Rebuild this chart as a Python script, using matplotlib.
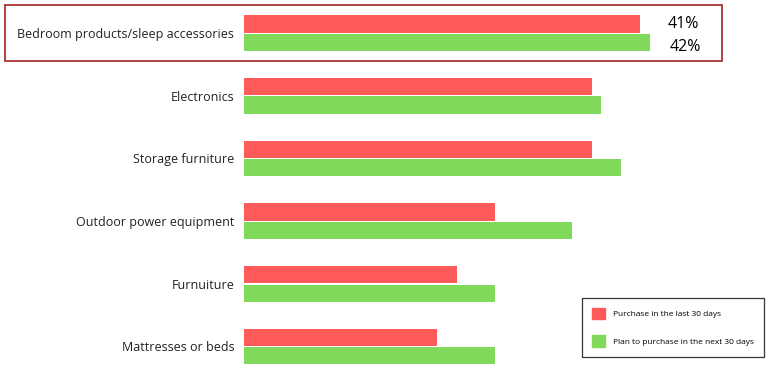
import matplotlib.pyplot as plt
from matplotlib.patches import Rectangle
from matplotlib.patches import Patch

plt.rcParams['font.family'] = ['Open Sans', 'DejaVu Sans']

categories = ["Bedroom products/sleep accessories", "Electronics", "Storage furniture",
              "Outdoor power equipment", "Furnuiture", "Mattresses or beds"]
last_30 = [41, 36, 36, 26, 22, 20]
next_30 = [42, 37, 39, 34, 26, 26]
series_names = ["Purchase in the last 30 days", "Plan to purchase in the next 30 days"]

red = "#ff5a5a"
green = "#80d95a"

fig = plt.figure(figsize=(7.68, 3.84), dpi=100)
ax = fig.add_axes([244 / 768, 0, 1 - 244 / 768, 1])

ypos = list(range(len(categories)))
h = 0.275
ax.barh([y - 0.145 for y in ypos], last_30, height=h, color=red)
ax.barh([y + 0.15 for y in ypos], next_30, height=h, color=green)

ax.set_xlim(0, 524 / 9.66)
ax.set_ylim(5.60, -0.527)
ax.set_yticks(ypos)
ax.set_yticklabels(categories, fontsize=9, color="#222222")
ax.tick_params(axis='y', length=0, pad=7)
ax.set_xticks([])
for s in ax.spines.values():
    s.set_visible(False)

# value labels for highlighted row
ax.text(last_30[0] + 2.9, -0.145, f"{last_30[0]}%", fontsize=11.5, va='center', ha='left')
ax.text(next_30[0] + 2.1, 0.23, f"{next_30[0]}%", fontsize=11.5, va='center', ha='left')

# highlight box
fig.patches.append(Rectangle((5 / 768, 1 - 61 / 384), 717 / 768, 56 / 384,
                             transform=fig.transFigure, fill=False,
                             edgecolor="#a83232", linewidth=1.3))

handles = [Patch(color=red), Patch(color=green)]
leg = fig.legend(handles, series_names, loc='lower left',
                 bbox_to_anchor=(582 / 768, 27 / 384), fontsize=6,
                 frameon=True, fancybox=False, borderaxespad=0,
                 handlelength=1.6, handleheight=1.8, labelspacing=1.9,
                 borderpad=1.2, handletextpad=0.9)
leg.get_frame().set_edgecolor('black')
leg.get_frame().set_linewidth(0.9)

fig.savefig("out.png", dpi=100)
